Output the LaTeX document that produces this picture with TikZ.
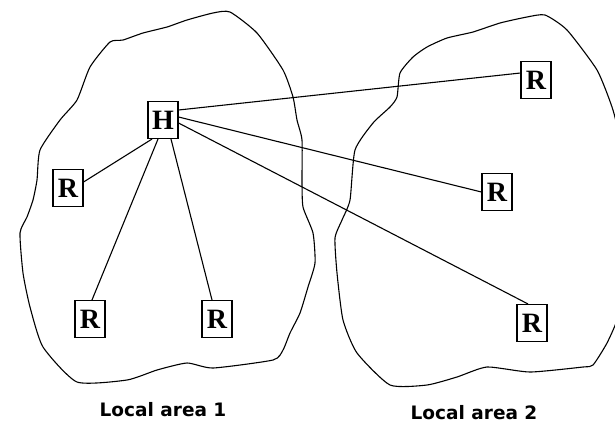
\documentclass[tikz,border=0pt]{standalone}
\usepackage{fontspec}
\setmainfont{Liberation Serif}
\newfontfamily\lblfont{DejaVu Sans}
\usetikzlibrary{calc}
\tikzset{
  hostbox/.style={draw, line width=1.1pt, fill=white, minimum width=30pt, minimum height=37pt, inner sep=0pt, font=\fontsize{28}{28}\selectfont\bfseries},
  blob/.style={line width=1.1pt},
  link/.style={line width=1.1pt},
  arealabel/.style={font=\lblfont\fontsize{18.5}{18.5}\selectfont\bfseries}
}
\begin{document}
\begin{tikzpicture}[x=1pt,y=-1pt]
\useasboundingbox (0,0) rectangle (615,424);
% left blob
\draw[blob] plot[smooth cycle, tension=0.35] coordinates {
 (230,12) (257,33) (283,70) (293,97) (297,120) (302,140) (302,180) (303,207)
 (313,233) (315,263) (308,287) (300,313) (290,333) (283,350) (273,360)
 (213,368) (187,363) (157,370) (127,380) (77,382) (43,347) (30,307) (23,273)
 (20,233) (27,217) (33,200) (37,180) (40,150) (60,120) (77,100) (90,67)
 (110,42) (123,40) (143,33) (167,27) (187,20) (213,13)};
% right blob
\draw[blob] plot[smooth cycle, tension=0.35] coordinates {
 (545,15) (567,30) (597,70) (612,107) (618,133) (622,200) (622,280) (618,317)
 (607,343) (593,365) (583,367) (530,372) (487,367) (457,377) (427,385) (390,385)
 (357,353) (343,320) (337,273) (335,238) (342,220) (350,200) (355,150)
 (373,123) (390,107) (397,97) (400,73) (413,57) (427,47) (447,38) (473,32)
 (500,23) (527,17)};
% nodes
\node[hostbox] (H) at (163,120) {H};
\node[hostbox] (RL) at (68,188) {R};
\node[hostbox] (RBL) at (90,319) {R};
\node[hostbox] (RBM) at (217,319) {R};
\node[hostbox] (R1) at (536,80) {R};
\node[hostbox] (R2) at (497,192) {R};
\node[hostbox] (R3) at (532,323) {R};
% links
\draw[link] ($(H.east)+(0,-10)$) -- ($(R1.west)+(0,-7)$);
\draw[link] ($(H.east)+(0,-3)$) -- (R2.west);
\draw[link] ($(H.east)+(0,3)$) -- ($(R3.north)+(-4,0)$);
\draw[link] ($(H.south)+(-11,0)$) -- ($(RL.east)+(0,-6)$);
\draw[link] ($(H.south)+(-5,0)$) -- ($(RBL.north)+(2,0)$);
\draw[link] ($(H.south)+(8,0)$) -- ($(RBM.north)+(-5,0)$);
% labels
\node[arealabel] (L1) at (163,410) {Local area 1};
\node[arealabel] (L2) at (474,413) {Local area 2};
\end{tikzpicture}
\end{document}
